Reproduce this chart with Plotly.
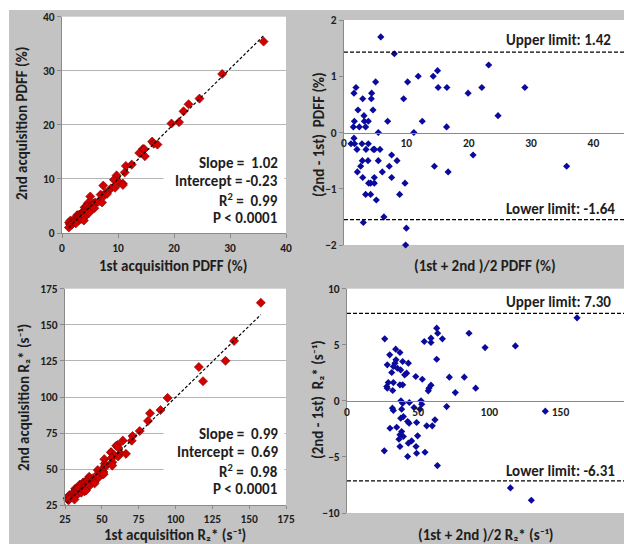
import plotly.graph_objects as go

# ---------------- data ----------------
# PDFF Bland-Altman: mean of acquisitions (%) and difference 2nd-1st (%)
pdff_mean = [5.9, 8.07, 15.0, 14.3, 11.9, 10.2, 5.07, 1.92, 15.1, 16.5, 19.9, 1.6, 4.43, 3.0, 4.38,
             9.56, 2.24, 4.65, 3.2, 1.66, 3.26, 3.9, 7.0, 12.55, 1.5, 2.46, 3.47, 16.45, 5.5, 11.2,
             1.6, 1.12, 1.7, 2.88, 3.9, 2.08, 3.53, 4.7, 4.9, 5.77, 7.64, 2.94, 3.85, 5.5, 8.5,
             14.5, 2.67, 7.26, 2.14, 6.14, 16.7, 3.0, 4.86, 7.64, 3.95, 4.27, 4.86, 9.78, 3.47, 4.27,
             8.92, 5.18, 6.4, 3.1, 10.0, 9.88, 23.2, 22.1, 29.0, 24.7, 20.7, 35.7]
pdff_diff = [1.7, 1.4, 1.1, 1.0, 1.0, 0.9, 0.9, 0.8, 0.8, 0.8, 0.7, 0.7, 0.7, 0.6, 0.6,
             0.6, 0.4, 0.4, 0.3, 0.2, 0.2, 0.2, 0.2, 0.2, 0.1, 0.1, 0.1, 0.1, 0.0, 0.0,
             -0.1, -0.2, -0.2, -0.2, -0.2, -0.3, -0.3, -0.3, -0.3, -0.3, -0.4, -0.5, -0.5, -0.5, -0.5,
             -0.6, -0.6, -0.6, -0.7, -0.7, -0.7, -0.8, -0.8, -0.8, -0.9, -0.9, -0.9, -0.9, -1.1, -1.1,
             -1.1, -1.2, -1.5, -1.6, -1.7, -2.0, 1.2, 0.8, 0.8, 0.3, -0.4, -0.6]

# R2* Bland-Altman: mean (s-1) and difference 2nd-1st (s-1)
r2_mean = [161.6, 63.0, 63.7, 85.7, 26.5, 59.0, 54.3, 59.0, 67.0, 97.0, 34.2, 37.2, 30.0, 63.0, 34.4,
           39.1, 33.7, 28.3, 43.1, 32.6, 35.4, 37.7, 31.4, 41.9, 40.5, 48.3, 52.9, 71.9, 82.4, 29.0,
           32.6, 37.2, 39.1, 27.9, 28.3, 32.1, 59.0, 57.6, 57.1, 90.4, 76.1, 37.9, 39.1, 43.8, 52.0,
           52.5, 47.1, 31.9, 32.6, 38.4, 51.3, 70.0, 39.6, 37.7, 42.6, 43.6, 48.9, 61.8, 56.0, 59.9,
           30.2, 34.9, 38.4, 37.2, 39.6, 49.6, 36.5, 45.4, 43.1, 26.2, 37.2, 48.5, 54.8, 42.6, 48.9,
           63.5, 139.3, 118.3, 114.8, 129.5]
r2_diff = [7.40, 6.48, 6.03, 6.03, 5.53, 5.59, 5.29, 5.20, 5.53, 4.75, 4.61, 4.31, 4.10, 3.71, 3.66,
           3.51, 3.36, 3.21, 3.36, 3.06, 2.91, 2.76, 2.53, 2.47, 2.32, 2.17, 1.93, 2.11, 2.11, 1.63,
           1.63, 1.43, 1.43, 1.28, 1.13, 0.92, 1.40, 1.13, 0.89, 1.13, 0.74, 0.0, -0.21, -0.15, 0.0,
           -0.30, -0.59, -0.65, -0.86, -0.74, -0.74, -0.51, -1.40, -1.55, -1.84, -1.99, -1.93, -1.69, -2.23, -2.23,
           -2.44, -2.35, -2.73, -3.03, -3.18, -3.12, -3.42, -3.57, -3.77, -4.46, -4.07, -4.07, -4.58, -4.96, -4.67,
           -5.77, -0.92, 4.90, -7.76, -8.86]

# acquisitions reconstructed from mean and difference
pdff_first = [m - d / 2 for m, d in zip(pdff_mean, pdff_diff)]
pdff_second = [m + d / 2 for m, d in zip(pdff_mean, pdff_diff)]
r2_first = [m - d / 2 for m, d in zip(r2_mean, r2_diff)]
r2_second = [m + d / 2 for m, d in zip(r2_mean, r2_diff)]

# regression statistics
pdff_slope, pdff_intercept = 1.02, -0.23
r2_slope, r2_intercept = 0.99, 0.69
pdff_fit_x = [min(pdff_first), max(pdff_first)]
pdff_fit_y = [pdff_slope * x + pdff_intercept for x in pdff_fit_x]
r2_fit_x = [min(r2_first), max(r2_first)]
r2_fit_y = [r2_slope * x + r2_intercept for x in r2_fit_x]

# limits of agreement lines (as drawn) and their labels
pdff_limits = [1.43, -1.55]
pdff_limit_labels = ["Upper limit: 1.42", "Lower limit: -1.64"]
r2_limits = [7.8, -7.13]
r2_limit_labels = ["Upper limit: 7.30", "Lower limit: -6.31"]

pdff_stats = ["Slope =  1.02", "Intercept = -0.23", "R<sup>2</sup> =  0.99", "P &lt; 0.0001"]
r2_stats = ["Slope =  0.99", "Intercept =  0.69", "R<sup>2</sup> =  0.98", "P &lt; 0.0001"]

# ---------------- figure ----------------
W, H = 624, 544
GRAY = "#c3c3c3"
TXT = "#1e1e1e"
FONT = "Carlito, Lato, sans-serif"
RED = "#d40000"
BLUE = "#0a0a9c"

def px_x(p):
    return p / W

def px_y(p):
    return 1 - p / H

fig = go.Figure()

red_marker = dict(symbol="diamond", size=7, color=RED, line=dict(color="#7a0000", width=0.6))
blue_marker = dict(symbol="diamond", size=5.5, color=BLUE, line=dict(width=0))
fit_line = dict(color="black", width=1.2, dash="3px,2px")
limit_line = dict(color="black", width=1.2, dash="4px,2px")

fig.add_trace(go.Scatter(x=pdff_first, y=pdff_second, mode="markers", marker=red_marker,
                         xaxis="x", yaxis="y", cliponaxis=False))
fig.add_trace(go.Scatter(x=pdff_fit_x, y=pdff_fit_y, mode="lines", line=fit_line,
                         xaxis="x", yaxis="y"))

fig.add_trace(go.Scatter(x=pdff_mean, y=pdff_diff, mode="markers", marker=blue_marker,
                         xaxis="x2", yaxis="y2", cliponaxis=False))
for lim in pdff_limits:
    fig.add_trace(go.Scatter(x=[0, 45], y=[lim, lim], mode="lines", line=limit_line,
                             xaxis="x2", yaxis="y2"))

fig.add_trace(go.Scatter(x=r2_first, y=r2_second, mode="markers", marker=red_marker,
                         xaxis="x3", yaxis="y3", cliponaxis=False))
fig.add_trace(go.Scatter(x=r2_fit_x, y=r2_fit_y, mode="lines", line=fit_line,
                         xaxis="x3", yaxis="y3"))

fig.add_trace(go.Scatter(x=r2_mean, y=r2_diff, mode="markers", marker=blue_marker,
                         xaxis="x4", yaxis="y4", cliponaxis=False))
for lim in r2_limits:
    fig.add_trace(go.Scatter(x=[0, 200], y=[lim, lim], mode="lines", line=limit_line,
                             xaxis="x4", yaxis="y4"))

tickfont = dict(family=FONT, size=11.5, color=TXT, weight="bold")
axis_common = dict(showline=True, linecolor="#8a8a8a", linewidth=1, tickfont=tickfont,
                   zeroline=False, fixedrange=True)

# domains (from pixel positions)
d1x = [px_x(62), px_x(286)]
d1y = [px_y(233), px_y(16.7)]
d2x = [px_x(344), 1.0]
d2y = [px_y(245), px_y(20)]
d3x = [px_x(65), px_x(286)]
d3y = [px_y(505.3), px_y(288.7)]
d4x = [px_x(347), 1.0]
d4y = [px_y(513), px_y(288.7)]

fig.update_layout(
    width=W, height=H, margin=dict(l=0, r=0, t=0, b=0, autoexpand=False),
    paper_bgcolor=GRAY, plot_bgcolor="white", showlegend=False,
    font=dict(family=FONT, color=TXT),
    xaxis=dict(domain=d1x, anchor="y", range=[0, 40], tickvals=[0, 10, 20, 30, 40],
               showgrid=False, ticks="outside", ticklen=4, tickcolor="#8a8a8a", **axis_common),
    yaxis=dict(domain=d1y, anchor="x", range=[0, 40], tickvals=[0, 10, 20, 30, 40],
               showgrid=True, gridcolor="#b4b4b4", ticks="outside", ticklen=4, tickcolor="#8a8a8a",
               **axis_common),
    xaxis2=dict(domain=d2x, anchor="free", position=(d2y[0] + d2y[1]) / 2, range=[0, 44.9],
                tickvals=[0, 10, 20, 30, 40], showgrid=False, ticks="", **axis_common),
    yaxis2=dict(domain=d2y, anchor="x2", range=[-2, 2], tickvals=[-2, -1, 0, 1, 2],
                showgrid=False, ticks="outside", ticklen=4, tickcolor="#8a8a8a", **axis_common),
    xaxis3=dict(domain=d3x, anchor="y3", range=[25, 175], tickvals=[25, 50, 75, 100, 125, 150, 175],
                showgrid=False, ticks="outside", ticklen=3, tickcolor="#8a8a8a", **axis_common),
    yaxis3=dict(domain=d3y, anchor="x3", range=[25, 175], tickvals=[25, 50, 75, 100, 125, 150, 175],
                showgrid=True, gridcolor="#b4b4b4", ticks="outside", ticklen=4, tickcolor="#8a8a8a",
                **axis_common),
    xaxis4=dict(domain=d4x, anchor="free", position=(d4y[0] + d4y[1]) / 2, range=[0, 194.6],
                tickvals=[0, 50, 100, 150], showgrid=False, ticks="", **axis_common),
    yaxis4=dict(domain=d4y, anchor="x4", range=[-10, 10], tickvals=[-10, -5, 0, 5, 10],
                showgrid=False, ticks="outside", ticklen=4, tickcolor="#8a8a8a", **axis_common),
)

shapes = [
    # white margins outside the gray panel
    dict(type="rect", xref="paper", yref="paper", x0=0, x1=1, y0=px_y(10), y1=1,
         fillcolor="white", line=dict(width=0), layer="below"),
    dict(type="rect", xref="paper", yref="paper", x0=0, x1=px_x(9), y0=0, y1=1,
         fillcolor="white", line=dict(width=0), layer="below"),
]
fig.update_layout(shapes=shapes)

ann = []
# white boxes behind the statistics text (they hide the gridlines there)
ann.append(dict(text=" ", xref="paper", yref="paper", x=px_x(163), y=px_y(148),
                xanchor="left", yanchor="top", width=120, height=80, bgcolor="white",
                showarrow=False, borderpad=0))
ann.append(dict(text=" ", xref="paper", yref="paper", x=px_x(163), y=px_y(419),
                xanchor="left", yanchor="top", width=120, height=83, bgcolor="white",
                showarrow=False, borderpad=0))

stat_font = dict(family=FONT, size=15, color=TXT, weight="bold")
for i, t in enumerate(pdff_stats):
    ann.append(dict(text=t, xref="paper", yref="paper", x=px_x(280), y=px_y(163 + 18.4 * i),
                    xanchor="right", yanchor="middle", showarrow=False, font=stat_font))
for i, t in enumerate(r2_stats):
    ann.append(dict(text=t, xref="paper", yref="paper", x=px_x(280), y=px_y(433.7 + 18.4 * i),
                    xanchor="right", yanchor="middle", showarrow=False, font=stat_font))

ann.append(dict(text=pdff_limit_labels[0], xref="paper", yref="paper", x=px_x(613), y=px_y(39.5),
                xanchor="right", yanchor="middle", showarrow=False, font=stat_font))
ann.append(dict(text=pdff_limit_labels[1], xref="paper", yref="paper", x=px_x(617), y=px_y(208.5),
                xanchor="right", yanchor="middle", showarrow=False, font=stat_font))
ann.append(dict(text=r2_limit_labels[0], xref="paper", yref="paper", x=px_x(613), y=px_y(301.5),
                xanchor="right", yanchor="middle", showarrow=False, font=stat_font))
ann.append(dict(text=r2_limit_labels[1], xref="paper", yref="paper", x=px_x(617), y=px_y(470.5),
                xanchor="right", yanchor="middle", showarrow=False, font=stat_font))

title_font = dict(family=FONT, size=15, color=TXT, weight="bold")
titles = [
    ("1st acquisition PDFF (%)", 173, 265.5, 0),
    ("2nd acquisition PDFF (%)", 22, 124, -90),
    ("(1st + 2nd )/2 PDFF (%)", 485, 265.5, 0),
    ("(2nd - 1st)  PDFF (%)", 319, 135, -90),
    ("1st acquisition R₂* (s⁻¹)", 175, 535, 0),
    ("2nd acquisition R₂* (s⁻¹)", 24, 398, -90),
    ("(1st + 2nd )/2 R₂* (s⁻¹)", 486, 535, 0),
    ("(2nd - 1st)  R₂* (s⁻¹)", 318, 400, -90),
]
for t, x, y, ang in titles:
    ann.append(dict(text=t, xref="paper", yref="paper", x=px_x(x), y=px_y(y),
                    xanchor="center", yanchor="middle", textangle=ang, showarrow=False,
                    font=title_font))
fig.update_layout(annotations=ann)

fig.write_html("out.html", config={"displayModeBar": False})

# remove default browser body margin so the figure fills the window exactly
with open("out.html", "r", encoding="utf-8") as f:
    html = f.read()
html = html.replace("<head>", "<head><style>html,body{margin:0;padding:0;overflow:hidden;}</style>", 1)
with open("out.html", "w", encoding="utf-8") as f:
    f.write(html)
